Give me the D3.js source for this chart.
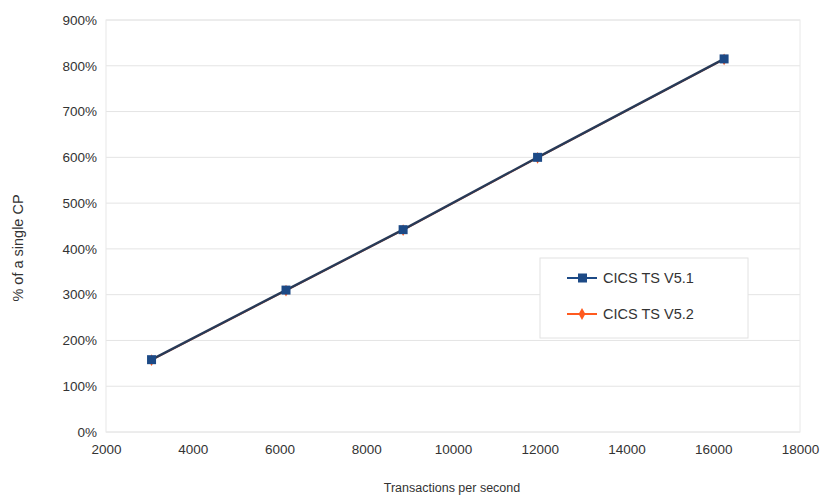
<!DOCTYPE html>
<html>
<head>
<meta charset="utf-8">
<script src="https://cdn.jsdelivr.net/npm/d3@7/dist/d3.min.js"></script>
<style>
  html, body { margin: 0; padding: 0; background: #fff; }
  svg text { font-family: "Liberation Sans", Arial, sans-serif; fill: #333; }
</style>
</head>
<body>
<svg id="chart" width="832" height="498"></svg>
<script>
// CPU cost (% of one CP) against throughput for two CICS releases
const seriesNames = ["CICS TS V5.1", "CICS TS V5.2"];
const tpsV51 = [3050, 6150, 8850, 11950, 16250];
const cpuV51 = [158, 310, 442, 600, 815];
const tpsV52 = [3050, 6150, 8850, 11950, 16250];
const cpuV52 = [157, 309, 441, 599, 814];
const xTicks = [2000, 4000, 6000, 8000, 10000, 12000, 14000, 16000, 18000];
const yTicks = [0, 100, 200, 300, 400, 500, 600, 700, 800, 900];
const colors = ["#1d4a86", "#ff5a1f"];

const svg = d3.select("#chart");
const plot = { left: 106, right: 800, top: 20, bottom: 432 };

const x = d3.scaleLinear().domain([2000, 18000]).range([plot.left, plot.right]);
const y = d3.scaleLinear().domain([0, 900]).range([plot.bottom, plot.top]);

// grid lines
svg.append("g").selectAll("line").data(yTicks).join("line")
  .attr("x1", plot.left).attr("x2", plot.right)
  .attr("y1", d => y(d)).attr("y2", d => y(d))
  .attr("stroke", "#e4e4e4").attr("stroke-width", 1);

// plot frame
svg.append("rect")
  .attr("x", plot.left).attr("y", plot.top)
  .attr("width", plot.right - plot.left).attr("height", plot.bottom - plot.top)
  .attr("fill", "none").attr("stroke", "#e8e8e8");

// y axis labels
const yAxis = d3.axisLeft(y).tickValues(yTicks).tickFormat(d => d + "%").tickSize(0).tickPadding(9);
svg.append("g").attr("transform", `translate(${plot.left},0)`).call(yAxis)
  .call(g => g.select(".domain").remove())
  .selectAll("text").style("font-size", "13.5px").attr("fill", "#333");

// x axis labels
const xAxis = d3.axisBottom(x).tickValues(xTicks).tickFormat(d3.format("d")).tickSize(0).tickPadding(12);
svg.append("g").attr("transform", `translate(0,${plot.bottom})`).call(xAxis)
  .call(g => g.select(".domain").remove())
  .selectAll("text").style("font-size", "13.5px").attr("fill", "#333");

// axis titles
svg.append("text")
  .attr("x", (plot.left + plot.right) / 2 - 1).attr("y", 492)
  .attr("text-anchor", "middle").style("font-size", "12.5px")
  .text("Transactions per second");
svg.append("text")
  .attr("transform", `translate(23,${(plot.top + plot.bottom) / 2 + 22}) rotate(-90)`)
  .attr("text-anchor", "middle").style("font-size", "14.5px")
  .text("% of a single CP");

const line = d3.line().x(d => x(d[0])).y(d => y(d[1]));
const v52 = tpsV52.map((t, i) => [t, cpuV52[i]]);
const v51 = tpsV51.map((t, i) => [t, cpuV51[i]]);

// V5.2 drawn first, largely hidden beneath V5.1
svg.append("path").datum(v52).attr("d", line)
  .attr("fill", "none").attr("stroke", colors[1]).attr("stroke-width", 1.5);
svg.append("g").selectAll("path").data(v52).join("path")
  .attr("transform", d => `translate(${x(d[0])},${y(d[1])})`)
  .attr("d", d3.symbol(d3.symbolDiamond, 40))
  .attr("fill", colors[1]);

svg.append("path").datum(v51).attr("d", line)
  .attr("fill", "none").attr("stroke", "#283a57").attr("stroke-width", 2.4);
svg.append("g").selectAll("rect").data(v51).join("rect")
  .attr("x", d => x(d[0]) - 4.5).attr("y", d => y(d[1]) - 4.5)
  .attr("width", 9).attr("height", 9)
  .attr("fill", colors[0]);

// legend
const lg = svg.append("g").attr("transform", "translate(540,258)");
lg.append("rect").attr("width", 208).attr("height", 80)
  .attr("fill", "#fff").attr("stroke", "#e2e2e2");
seriesNames.forEach((name, i) => {
  const cy = 20 + i * 36;
  lg.append("line").attr("x1", 27).attr("x2", 57).attr("y1", cy).attr("y2", cy)
    .attr("stroke", colors[i]).attr("stroke-width", 2);
  if (i === 0) {
    lg.append("rect").attr("x", 38).attr("y", cy - 4.5).attr("width", 9).attr("height", 9).attr("fill", colors[0]);
  } else {
    lg.append("path").attr("transform", `translate(42,${cy})`)
      .attr("d", d3.symbol(d3.symbolDiamond, 40)).attr("fill", colors[1]);
  }
  lg.append("text").attr("x", 63).attr("y", cy + 5).style("font-size", "14.5px").text(name);
});
</script>
</body>
</html>
